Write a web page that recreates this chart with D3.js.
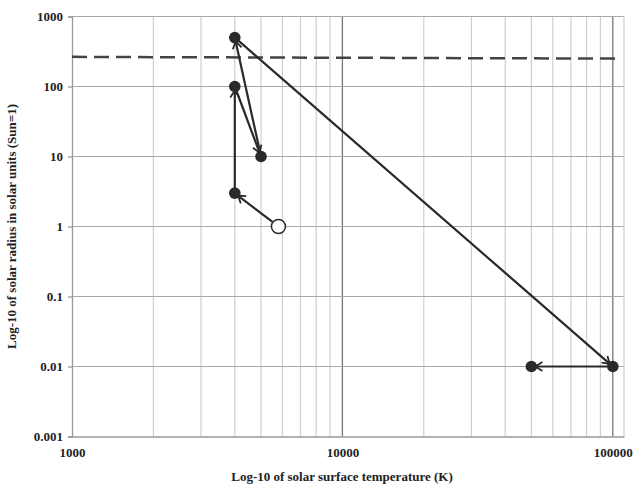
<!DOCTYPE html>
<html>
<head>
<meta charset="utf-8">
<script src="https://cdn.jsdelivr.net/npm/d3@7"></script>
<style>
  body { margin: 0; background: #fff; }
  .axis text { font-family: "Liberation Serif", "Times New Roman", serif; font-weight: bold; font-size: 13px; fill: #222; }
  .label { font-family: "Liberation Serif", "Times New Roman", serif; font-weight: bold; font-size: 13px; fill: #222; }
</style>
</head>
<body>
<div id="chart"></div>
<script>
// data
var temps = [5800, 4000, 4000, 5000, 4000, 100000, 50000];
var radii = [1, 3, 100, 10, 500, 0.01, 0.01];
var xTicks = [1000, 10000, 100000];
var yTicks = [0.001, 0.01, 0.1, 1, 10, 100, 1000];
var limitTemps = [1000, 110000];
var limitRadii = [265, 250];

var margin = {top: 16.5, right: 9, bottom: 49.5, left: 72};
var width = 633 - margin.left - margin.right;
var height = 486 - margin.top - margin.bottom;

var svg = d3.select("#chart")
            .append("svg")
              .attr("width", 633)
              .attr("height", 486);

var chart = svg.append("g")
               .attr("transform", "translate(" + margin.left + "," + margin.top + ")");

// scales
var xScale = d3.scaleLog().domain([1000, 110000]).range([0, width]);
var yScale = d3.scaleLog().domain([0.001, 1000]).range([height, 0]);

// minor vertical grid
var minorX = [];
[1000, 10000].forEach(function(d) {
  for (var k = 2; k <= 9; k++) minorX.push(d * k);
});

chart.selectAll(".minor-x")
      .data(minorX)
      .enter()
     .append("line")
      .attr("x1", function(d) { return xScale(d); })
      .attr("x2", function(d) { return xScale(d); })
      .attr("y1", 0)
      .attr("y2", height)
      .attr("stroke", "#cfcfcf")
      .attr("stroke-width", 1.2);

// major vertical grid
chart.selectAll(".major-x")
      .data([10000, 100000])
      .enter()
     .append("line")
      .attr("x1", function(d) { return xScale(d); })
      .attr("x2", function(d) { return xScale(d); })
      .attr("y1", 0)
      .attr("y2", height)
      .attr("stroke", "#777")
      .attr("stroke-width", 1.3);

// horizontal grid
chart.selectAll(".major-y")
      .data(yTicks.slice(1))
      .enter()
     .append("line")
      .attr("x1", 0)
      .attr("x2", width)
      .attr("y1", function(d) { return yScale(d); })
      .attr("y2", function(d) { return yScale(d); })
      .attr("stroke", "#a8a8a8")
      .attr("stroke-width", 1.2);

// right frame
chart.append("line")
      .attr("x1", width).attr("x2", width)
      .attr("y1", 0).attr("y2", height)
      .attr("stroke", "#cfcfcf")
      .attr("stroke-width", 1.2);

// axes
var yAxis = d3.axisLeft(yScale)
              .tickValues(yTicks)
              .tickSize(4)
              .tickPadding(5)
              .tickFormat(function(d) { return String(d); });

var xAxis = d3.axisBottom(xScale)
              .tickValues(xTicks)
              .tickSize(0)
              .tickPadding(11)
              .tickFormat(function(d) { return String(d); });

chart.append("g")
      .attr("class", "axis y-axis")
      .call(yAxis);

chart.append("g")
      .attr("class", "axis x-axis")
      .attr("transform", "translate(0," + height + ")")
      .call(xAxis);

chart.selectAll(".axis .domain").attr("stroke", "#999").attr("stroke-width", 1.3);
chart.selectAll(".axis .tick line").attr("stroke", "#999").attr("stroke-width", 1.3);

// axis labels
svg.append("text")
    .attr("class", "label")
    .attr("x", 342)
    .attr("y", 481)
    .attr("text-anchor", "middle")
    .text("Log-10 of solar surface temperature (K)");

svg.append("text")
    .attr("class", "label")
    .attr("transform", "translate(16," + (margin.top + height / 2) + ") rotate(-90)")
    .attr("text-anchor", "middle")
    .text("Log-10 of solar radius in solar units (Sun=1)");

// dashed limit line
chart.append("line")
      .attr("x1", xScale(limitTemps[0]))
      .attr("x2", xScale(limitTemps[1]) - 2)
      .attr("y1", yScale(limitRadii[0]))
      .attr("y2", yScale(limitRadii[1]))
      .attr("stroke", "#444")
      .attr("stroke-width", 2.5)
      .attr("stroke-dasharray", "15,7");

// arrow marker
svg.append("defs")
   .append("marker")
    .attr("id", "arrow")
    .attr("viewBox", "-10 -6 12 12")
    .attr("refX", 0)
    .attr("refY", 0)
    .attr("markerWidth", 12)
    .attr("markerHeight", 12)
    .attr("markerUnits", "userSpaceOnUse")
    .attr("orient", "auto")
   .append("path")
    .attr("d", "M-7,-4.5 L0,0 L-7,4.5")
    .attr("fill", "none")
    .attr("stroke", "#2a2a2a")
    .attr("stroke-width", 1.8);

var points = temps.map(function(t, i) {
  return {x: xScale(t), y: yScale(radii[i]), r: i === 0 ? 7.5 : 4};
});

// path segments
var segs = [];
for (var i = 0; i < points.length - 1; i++) {
  var a = points[i], b = points[i + 1];
  var dx = b.x - a.x, dy = b.y - a.y;
  var len = Math.sqrt(dx * dx + dy * dy);
  segs.push({
    x1: a.x + dx / len * a.r,
    y1: a.y + dy / len * a.r,
    x2: b.x - dx / len * b.r,
    y2: b.y - dy / len * b.r
  });
}

chart.selectAll(".seg")
      .data(segs)
      .enter()
     .append("line")
      .attr("x1", function(d) { return d.x1; })
      .attr("y1", function(d) { return d.y1; })
      .attr("x2", function(d) { return d.x2; })
      .attr("y2", function(d) { return d.y2; })
      .attr("stroke", "#2a2a2a")
      .attr("stroke-width", 2.2)
      .attr("marker-end", "url(#arrow)");

// points
chart.selectAll(".pt")
      .data(points)
      .enter()
     .append("circle")
      .attr("cx", function(d) { return d.x; })
      .attr("cy", function(d) { return d.y; })
      .attr("r", function(d, i) { return i === 0 ? 7 : 5.8; })
      .attr("fill", function(d, i) { return i === 0 ? "#fff" : "#2a2a2a"; })
      .attr("stroke", "#2a2a2a")
      .attr("stroke-width", function(d, i) { return i === 0 ? 1.5 : 0; });
</script>
</body>
</html>
